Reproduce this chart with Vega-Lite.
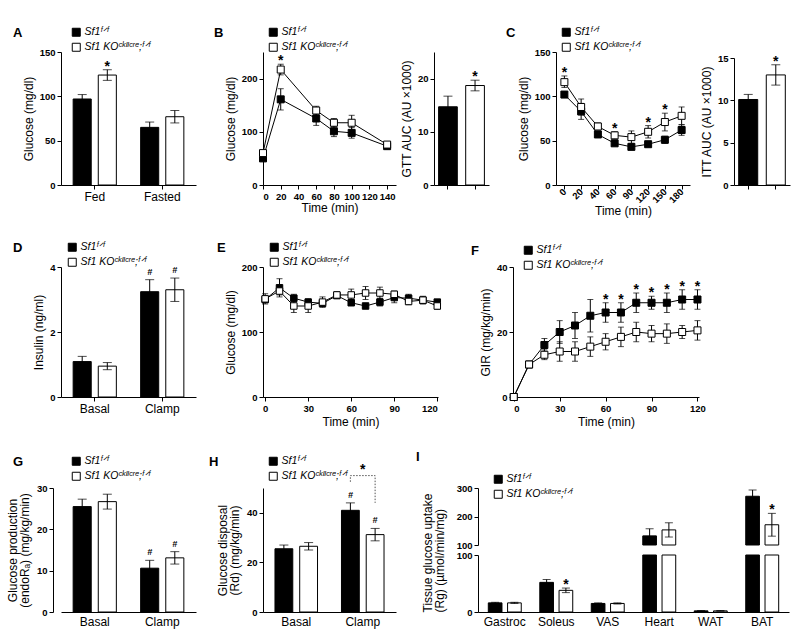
{
"$schema":"https://vega.github.io/schema/vega-lite/v6.json",
"background":"white",
"padding":{"left":6,"top":27,"right":2,"bottom":2},
"autosize":{"type":"pad"},
"config":{
 "font":"Liberation Sans",
 "view":{"stroke":null},
 "axis":{"grid":false,"domainColor":"black","tickColor":"black","tickSize":4,"labelFont":"Liberation Sans","labelFontSize":9.5,"labelFontWeight":"bold","labelColor":"black","labelPadding":2,"titleFont":"Liberation Sans","titleFontSize":12,"titleFontWeight":"normal","titleColor":"black","titlePadding":4,"titleLineHeight":12},
 "legend":{"orient":"none","titleOrient":"left","titleAnchor":"start","titleFont":"Liberation Sans","titleFontSize":13,"titleFontWeight":900,"titleColor":"black","titleBaseline":"top","labelFont":"Liberation Sans","labelFontSize":10.5,"labelFontStyle":"italic","labelColor":"black","symbolType":"square","symbolSize":64,"symbolStrokeColor":"black","symbolStrokeWidth":1,"rowPadding":2,"labelOffset":3,"padding":0},
 "text":{"font":"Liberation Sans","color":"black"}
},
"datasets":{
 "A":[{"c":"Fed","g":"WT","v":97,"lo":92,"hi":102},{"c":"Fed","g":"KO","v":124,"lo":118,"hi":130,"s":"*"},{"c":"Fasted","g":"WT","v":65,"lo":59,"hi":71},{"c":"Fasted","g":"KO","v":77,"lo":70,"hi":84}],
 "B":[{"t":0,"g":"WT","v":50,"lo":47,"hi":53},{"t":20,"g":"WT","v":161,"lo":141,"hi":181},{"t":60,"g":"WT","v":125,"lo":112,"hi":138},{"t":80,"g":"WT","v":101,"lo":91,"hi":111},{"t":100,"g":"WT","v":98,"lo":88,"hi":108},{"t":140,"g":"WT","v":73,"lo":68,"hi":78},
      {"t":0,"g":"KO","v":60,"lo":56,"hi":64},{"t":20,"g":"KO","v":217,"lo":207,"hi":227,"s":"*"},{"t":60,"g":"KO","v":140,"lo":132,"hi":148},{"t":80,"g":"KO","v":117,"lo":109,"hi":125},{"t":100,"g":"KO","v":117,"lo":103,"hi":131},{"t":140,"g":"KO","v":76,"lo":71,"hi":81}],
 "BA":[{"g":"WT","v":14.7,"lo":12.7,"hi":16.7},{"g":"KO","v":18.7,"lo":17.7,"hi":19.7,"s":"*"}],
 "C":[{"t":0,"g":"WT","v":102,"lo":99,"hi":105},{"t":20,"g":"WT","v":83,"lo":74,"hi":92},{"t":40,"g":"WT","v":57,"lo":54,"hi":60},{"t":60,"g":"WT","v":47,"lo":45,"hi":49},{"t":90,"g":"WT","v":43,"lo":41,"hi":45},{"t":120,"g":"WT","v":46,"lo":43,"hi":49},{"t":150,"g":"WT","v":51,"lo":47,"hi":55},{"t":180,"g":"WT","v":62,"lo":56,"hi":68},
      {"t":0,"g":"KO","v":116,"lo":110,"hi":123,"s":"*"},{"t":20,"g":"KO","v":88,"lo":79,"hi":97},{"t":40,"g":"KO","v":66,"lo":62,"hi":70},{"t":60,"g":"KO","v":56,"lo":52,"hi":60,"s":"*"},{"t":90,"g":"KO","v":54,"lo":47,"hi":61},{"t":120,"g":"KO","v":60,"lo":53,"hi":67,"s":"*"},{"t":150,"g":"KO","v":71,"lo":61,"hi":81,"s":"*"},{"t":180,"g":"KO","v":78,"lo":68,"hi":88}],
 "CA":[{"g":"WT","v":10.1,"lo":9.5,"hi":10.7},{"g":"KO","v":13.0,"lo":11.8,"hi":14.2,"s":"*"}],
 "D":[{"c":"Basal","g":"WT","v":1.09,"lo":0.93,"hi":1.25},{"c":"Basal","g":"KO","v":0.95,"lo":0.84,"hi":1.06},{"c":"Clamp","g":"WT","v":3.24,"lo":2.87,"hi":3.61,"h":"#"},{"c":"Clamp","g":"KO","v":3.3,"lo":2.94,"hi":3.66,"h":"#"}],
 "E":[{"t":0,"g":"WT","v":150,"lo":145,"hi":155},{"t":10,"g":"WT","v":168,"lo":154,"hi":182},{"t":20,"g":"WT","v":152,"lo":146,"hi":158},{"t":30,"g":"WT","v":146,"lo":141,"hi":151},{"t":40,"g":"WT","v":144,"lo":139,"hi":149},{"t":50,"g":"WT","v":156,"lo":152,"hi":160},{"t":60,"g":"WT","v":145,"lo":141,"hi":149},{"t":70,"g":"WT","v":140,"lo":138,"hi":142},{"t":80,"g":"WT","v":146,"lo":140,"hi":152},{"t":90,"g":"WT","v":153,"lo":145,"hi":161},{"t":100,"g":"WT","v":152,"lo":146,"hi":158},{"t":110,"g":"WT","v":149,"lo":143,"hi":155},{"t":120,"g":"WT","v":146,"lo":142,"hi":150},
      {"t":0,"g":"KO","v":151,"lo":143,"hi":159},{"t":10,"g":"KO","v":163,"lo":157,"hi":169},{"t":20,"g":"KO","v":140,"lo":130,"hi":150},{"t":30,"g":"KO","v":140,"lo":130,"hi":150},{"t":40,"g":"KO","v":146,"lo":138,"hi":154},{"t":50,"g":"KO","v":157,"lo":152,"hi":162},{"t":60,"g":"KO","v":157,"lo":148,"hi":166},{"t":70,"g":"KO","v":160,"lo":150,"hi":170},{"t":80,"g":"KO","v":160,"lo":151,"hi":169},{"t":90,"g":"KO","v":158,"lo":153,"hi":163},{"t":100,"g":"KO","v":147,"lo":142,"hi":152},{"t":110,"g":"KO","v":149,"lo":145,"hi":153},{"t":120,"g":"KO","v":140,"lo":135,"hi":145}],
 "F":[{"t":0,"g":"WT","v":0},{"t":10,"g":"WT","v":10,"lo":9.3,"hi":10.7},{"t":20,"g":"WT","v":16,"lo":14,"hi":18},{"t":30,"g":"WT","v":20,"lo":16.5,"hi":23.5},{"t":40,"g":"WT","v":22,"lo":18,"hi":26},{"t":50,"g":"WT","v":25,"lo":20,"hi":30},{"t":60,"g":"WT","v":26,"lo":23,"hi":29,"s":"*"},{"t":70,"g":"WT","v":26,"lo":23,"hi":29,"s":"*"},{"t":80,"g":"WT","v":29,"lo":26,"hi":32,"s":"*"},{"t":90,"g":"WT","v":29,"lo":27,"hi":31,"s":"*"},{"t":100,"g":"WT","v":29,"lo":26,"hi":32,"s":"*"},{"t":110,"g":"WT","v":30,"lo":27,"hi":33,"s":"*"},{"t":120,"g":"WT","v":30,"lo":27,"hi":33,"s":"*"},
      {"t":0,"g":"KO","v":0},{"t":10,"g":"KO","v":10,"lo":9.4,"hi":10.6},{"t":20,"g":"KO","v":13,"lo":11.5,"hi":14.5},{"t":30,"g":"KO","v":14,"lo":11,"hi":17},{"t":40,"g":"KO","v":14,"lo":11,"hi":17},{"t":50,"g":"KO","v":15.5,"lo":12.5,"hi":18.5},{"t":60,"g":"KO","v":17,"lo":14.5,"hi":19.5},{"t":70,"g":"KO","v":18.5,"lo":15.5,"hi":21.5},{"t":80,"g":"KO","v":20,"lo":17,"hi":23},{"t":90,"g":"KO","v":19.5,"lo":17,"hi":22},{"t":100,"g":"KO","v":19.5,"lo":16.5,"hi":22.5},{"t":110,"g":"KO","v":20,"lo":18,"hi":22},{"t":120,"g":"KO","v":20.5,"lo":17.5,"hi":23.5}],
 "G":[{"c":"Basal","g":"WT","v":25.5,"lo":23.7,"hi":27.3},{"c":"Basal","g":"KO","v":26.7,"lo":24.9,"hi":28.5},{"c":"Clamp","g":"WT","v":10.6,"lo":8.7,"hi":12.5,"h":"#"},{"c":"Clamp","g":"KO","v":13.1,"lo":11.6,"hi":14.6,"h":"#"}],
 "H":[{"c":"Basal","g":"WT","v":25.5,"lo":24,"hi":27},{"c":"Basal","g":"KO","v":26.5,"lo":25,"hi":28},{"c":"Clamp","g":"WT","v":41,"lo":38,"hi":44,"h":"#"},{"c":"Clamp","g":"KO","v":31.2,"lo":28.7,"hi":33.7,"h":"#"}],
 "Hb":[{"c":"Clamp","g":"WT","y":52.5,"o":1},{"c":"Clamp","g":"WT","y":55,"o":2},{"c":"Clamp","g":"KO","y":55,"o":3},{"c":"Clamp","g":"KO","y":44,"o":4}],
 "Hs":[{"c":"Clamp","y":56,"s":"*"}],
 "I":[{"c":"Gastroc","g":"WT","v":16,"lo":15,"hi":17},{"c":"Gastroc","g":"KO","v":16,"lo":15,"hi":17},{"c":"Soleus","g":"WT","v":52,"lo":47,"hi":57},{"c":"Soleus","g":"KO","v":38,"lo":34,"hi":42,"s":"*"},{"c":"VAS","g":"WT","v":15,"lo":14,"hi":16},{"c":"VAS","g":"KO","v":15,"lo":14,"hi":16},{"c":"Heart","g":"WT","v":132,"lo":107,"hi":157},{"c":"Heart","g":"KO","v":153,"lo":128,"hi":178},{"c":"WAT","g":"WT","v":2,"lo":1.6,"hi":2.4},{"c":"WAT","g":"KO","v":2,"lo":1.6,"hi":2.4},{"c":"BAT","g":"WT","v":271,"lo":249,"hi":293},{"c":"BAT","g":"KO","v":171,"lo":131,"hi":211,"s":"*"}],
 "Z":[{"a":1}]
},
"columns":7,"align":"each","bounds":"flush","spacing":{"row":82,"column":0},
"resolve":{"scale":{"fill":"independent","xOffset":"independent","x":"independent","y":"independent"},"legend":{"fill":"independent"}},
"concat":[
  {"width":202,"height":133,"data":{"name":"A"},
   "encoding":{"x":{"field":"c","type":"nominal","sort":["Fed","Fasted"],"scale":{"range":[0,135],"paddingInner":0.36,"paddingOuter":0.18},"axis":{"title":null,"labelAngle":0,"labelFontWeight":"normal","labelFontSize":12,"labelPadding":2}},
               "xOffset":{"field":"g","type":"nominal","sort":["WT","KO"],"scale":{"paddingInner":0.28}}},
   "layer":[
    {"mark":{"type":"bar","stroke":"black","strokeWidth":1},"encoding":{"y":{"field":"v","type":"quantitative","scale":{"domain":[0,150],"nice":false},"axis":{"title":"Glucose (mg/dl)","values":[0,50,100,150]}},"fill":{"field":"g","type":"nominal","scale":{"domain":["WT","KO"],"range":["black","white"]},"legend":{"orient":"none","title":"A","legendX":-48,"legendY":-25,"titlePadding":48,"labelExpr":"datum.label === 'WT' ? 'Sf1ᶠᐟᶠ' : 'Sf1 KOᶜᵏᴵᴵᶜʳᵉ;ᶠᐟᶠ'"}}}},
    {"mark":{"type":"rule","color":"black","strokeWidth":1},"encoding":{"y":{"field":"lo","type":"quantitative"},"y2":{"field":"hi"}}},
    {"mark":{"type":"tick","orient":"horizontal","color":"black","size":9,"thickness":1},"encoding":{"y":{"field":"hi","type":"quantitative"}}},
    {"mark":{"type":"tick","orient":"horizontal","color":"black","size":9,"thickness":1},"encoding":{"y":{"field":"lo","type":"quantitative"}}},
    {"transform":[{"filter":"datum.s"}],"mark":{"type":"text","fontSize":14,"fontWeight":"bold","baseline":"alphabetic","dy":1},"encoding":{"y":{"field":"hi","type":"quantitative"},"text":{"field":"s","type":"nominal"}}}
   ]},
  {"width":171,"height":133,"data":{"name":"B"},
   "encoding":{"x":{"field":"t","type":"quantitative","scale":{"domain":[0,150],"nice":false,"range":[0,133]},"axis":{"values":[0,20,40,60,80,100,120,140],"title":"Time (min)","titlePadding":2}}},
   "layer":[
    {"mark":{"type":"line","color":"black","strokeWidth":1},"encoding":{"y":{"field":"v","type":"quantitative","scale":{"domain":[0,250],"nice":false},"axis":{"title":"Glucose (mg/dl)","values":[0,50,100,150,200,250]}},"detail":{"field":"g"}}},
    {"mark":{"type":"rule","color":"black","strokeWidth":1},"encoding":{"y":{"field":"lo","type":"quantitative"},"y2":{"field":"hi"}}},
    {"mark":{"type":"tick","orient":"horizontal","color":"black","size":6,"thickness":1},"encoding":{"y":{"field":"hi","type":"quantitative"}}},
    {"mark":{"type":"tick","orient":"horizontal","color":"black","size":6,"thickness":1},"encoding":{"y":{"field":"lo","type":"quantitative"}}},
    {"mark":{"type":"point","shape":"square","filled":true,"size":49,"stroke":"black","strokeWidth":1,"opacity":1},"encoding":{"y":{"field":"v","type":"quantitative"},"fill":{"field":"g","type":"nominal","scale":{"domain":["WT","KO"],"range":["black","white"]},"legend":{"orient":"none","title":"B","legendX":-49,"legendY":-25,"titlePadding":44,"labelExpr":"datum.label === 'WT' ? 'Sf1ᶠᐟᶠ' : 'Sf1 KOᶜᵏᴵᴵᶜʳᵉ;ᶠᐟᶠ'"}}}},
    {"transform":[{"filter":"datum.s"}],"mark":{"type":"text","fontSize":14,"fontWeight":"bold","baseline":"alphabetic","dy":1},"encoding":{"y":{"field":"hi","type":"quantitative"},"text":{"field":"s","type":"nominal"}}}
   ]},
  {"width":44,"height":133,"data":{"name":"BA"},
   "encoding":{"x":{"field":"g","type":"nominal","sort":["WT","KO"],"scale":{"range":[0,55],"paddingInner":0.31,"paddingOuter":0.17},"axis":{"title":null,"labels":false}}},
   "layer":[
    {"mark":{"type":"bar","stroke":"black","strokeWidth":1},"encoding":{"y":{"field":"v","type":"quantitative","scale":{"domain":[0,25],"nice":false},"axis":{"title":"GTT AUC (AU ×1000)","values":[0,5,10,15,20,25]}},"fill":{"field":"g","type":"nominal","scale":{"domain":["WT","KO"],"range":["black","white"]},"legend":null}}},
    {"mark":{"type":"rule","color":"black","strokeWidth":1},"encoding":{"y":{"field":"lo","type":"quantitative"},"y2":{"field":"hi"}}},
    {"mark":{"type":"tick","orient":"horizontal","color":"black","size":9,"thickness":1},"encoding":{"y":{"field":"hi","type":"quantitative"}}},
    {"mark":{"type":"tick","orient":"horizontal","color":"black","size":9,"thickness":1},"encoding":{"y":{"field":"lo","type":"quantitative"}}},
    {"transform":[{"filter":"datum.s"}],"mark":{"type":"text","fontSize":14,"fontWeight":"bold","baseline":"alphabetic","dy":1},"encoding":{"y":{"field":"hi","type":"quantitative"},"text":{"field":"s","type":"nominal"}}}
   ]},
  {"width":35,"height":1,"data":{"name":"Z"},"mark":{"type":"point","opacity":0}},
  {"width":43,"height":1,"data":{"name":"Z"},"mark":{"type":"point","opacity":0}},
  {"width":178,"height":133,"data":{"name":"C"},
   "encoding":{"x":{"field":"t","type":"ordinal","sort":[0,20,40,60,90,120,150,180],"scale":{"type":"point","padding":0.5,"range":[0,134]},"axis":{"title":"Time (min)","titleX":67,"titleY":20,"titleAlign":"center","titleBaseline":"top","labelAngle":-45,"labelAlign":"right","labelBaseline":"middle","labelPadding":1}}},
   "layer":[
    {"mark":{"type":"line","color":"black","strokeWidth":1},"encoding":{"y":{"field":"v","type":"quantitative","scale":{"domain":[0,150],"nice":false},"axis":{"title":"Glucose (mg/dl)","values":[0,50,100,150]}},"detail":{"field":"g"}}},
    {"mark":{"type":"rule","color":"black","strokeWidth":1},"encoding":{"y":{"field":"lo","type":"quantitative"},"y2":{"field":"hi"}}},
    {"mark":{"type":"tick","orient":"horizontal","color":"black","size":6,"thickness":1},"encoding":{"y":{"field":"hi","type":"quantitative"}}},
    {"mark":{"type":"tick","orient":"horizontal","color":"black","size":6,"thickness":1},"encoding":{"y":{"field":"lo","type":"quantitative"}}},
    {"mark":{"type":"point","shape":"square","filled":true,"size":49,"stroke":"black","strokeWidth":1,"opacity":1},"encoding":{"y":{"field":"v","type":"quantitative"},"fill":{"field":"g","type":"nominal","scale":{"domain":["WT","KO"],"range":["black","white"]},"legend":{"orient":"none","title":"C","legendX":-50,"legendY":-25,"titlePadding":45,"labelExpr":"datum.label === 'WT' ? 'Sf1ᶠᐟᶠ' : 'Sf1 KOᶜᵏᴵᴵᶜʳᵉ;ᶠᐟᶠ'"}}}},
    {"transform":[{"filter":"datum.s"}],"mark":{"type":"text","fontSize":14,"fontWeight":"bold","baseline":"alphabetic","dy":1},"encoding":{"y":{"field":"hi","type":"quantitative"},"text":{"field":"s","type":"nominal"}}}
   ]},
  {"width":62,"height":133,"data":{"name":"CA"},
   "encoding":{"x":{"field":"g","type":"nominal","sort":["WT","KO"],"scale":{"range":[0,56],"paddingInner":0.31,"paddingOuter":0.17},"axis":{"title":null,"labels":false}}},
   "layer":[
    {"mark":{"type":"bar","stroke":"black","strokeWidth":1},"encoding":{"y":{"field":"v","type":"quantitative","scale":{"domain":[0,15],"nice":false,"range":[133,6]},"axis":{"title":"ITT AUC (AU ×1000)","values":[0,5,10,15]}},"fill":{"field":"g","type":"nominal","scale":{"domain":["WT","KO"],"range":["black","white"]},"legend":null}}},
    {"mark":{"type":"rule","color":"black","strokeWidth":1},"encoding":{"y":{"field":"lo","type":"quantitative"},"y2":{"field":"hi"}}},
    {"mark":{"type":"tick","orient":"horizontal","color":"black","size":9,"thickness":1},"encoding":{"y":{"field":"hi","type":"quantitative"}}},
    {"mark":{"type":"tick","orient":"horizontal","color":"black","size":9,"thickness":1},"encoding":{"y":{"field":"lo","type":"quantitative"}}},
    {"transform":[{"filter":"datum.s"}],"mark":{"type":"text","fontSize":14,"fontWeight":"bold","baseline":"alphabetic","dy":1},"encoding":{"y":{"field":"hi","type":"quantitative"},"text":{"field":"s","type":"nominal"}}}
   ]},
  {"width":202,"height":130,"data":{"name":"D"},
   "encoding":{"x":{"field":"c","type":"nominal","sort":["Basal","Clamp"],"scale":{"range":[0,135],"paddingInner":0.36,"paddingOuter":0.18},"axis":{"title":null,"labelAngle":0,"labelFontWeight":"normal","labelFontSize":12,"labelPadding":2}},
               "xOffset":{"field":"g","type":"nominal","sort":["WT","KO"],"scale":{"paddingInner":0.28}}},
   "layer":[
    {"mark":{"type":"bar","stroke":"black","strokeWidth":1},"encoding":{"y":{"field":"v","type":"quantitative","scale":{"domain":[0,4],"nice":false},"axis":{"title":"Insulin (ng/ml)","values":[0,1,2,3,4]}},"fill":{"field":"g","type":"nominal","scale":{"domain":["WT","KO"],"range":["black","white"]},"legend":{"orient":"none","title":"D","legendX":-48,"legendY":-25,"titlePadding":44,"labelExpr":"datum.label === 'WT' ? 'Sf1ᶠᐟᶠ' : 'Sf1 KOᶜᵏᴵᴵᶜʳᵉ;ᶠᐟᶠ'"}}}},
    {"mark":{"type":"rule","color":"black","strokeWidth":1},"encoding":{"y":{"field":"lo","type":"quantitative"},"y2":{"field":"hi"}}},
    {"mark":{"type":"tick","orient":"horizontal","color":"black","size":9,"thickness":1},"encoding":{"y":{"field":"hi","type":"quantitative"}}},
    {"mark":{"type":"tick","orient":"horizontal","color":"black","size":9,"thickness":1},"encoding":{"y":{"field":"lo","type":"quantitative"}}},
    {"transform":[{"filter":"datum.h"}],"mark":{"type":"text","fontSize":9,"fontStyle":"italic","fontWeight":"bold","baseline":"alphabetic","dy":-5},"encoding":{"y":{"field":"hi","type":"quantitative"},"text":{"field":"h","type":"nominal"}}}
   ]},
  {"width":171,"height":130,"data":{"name":"E"},
   "encoding":{"x":{"field":"t","type":"quantitative","scale":{"domain":[-1.5,120.5],"nice":false,"range":[0,175]},"axis":{"values":[0,30,60,90,120],"title":"Time (min)"}}},
   "layer":[
    {"mark":{"type":"line","color":"black","strokeWidth":1},"encoding":{"y":{"field":"v","type":"quantitative","scale":{"domain":[0,200],"nice":false},"axis":{"title":"Glucose (mg/dl)","values":[0,50,100,150,200]}},"detail":{"field":"g"}}},
    {"mark":{"type":"rule","color":"black","strokeWidth":1},"encoding":{"y":{"field":"lo","type":"quantitative"},"y2":{"field":"hi"}}},
    {"mark":{"type":"tick","orient":"horizontal","color":"black","size":6,"thickness":1},"encoding":{"y":{"field":"hi","type":"quantitative"}}},
    {"mark":{"type":"tick","orient":"horizontal","color":"black","size":6,"thickness":1},"encoding":{"y":{"field":"lo","type":"quantitative"}}},
    {"mark":{"type":"point","shape":"square","filled":true,"size":42,"stroke":"black","strokeWidth":1,"opacity":1},"encoding":{"y":{"field":"v","type":"quantitative"},"fill":{"field":"g","type":"nominal","scale":{"domain":["WT","KO"],"range":["black","white"]},"legend":{"orient":"none","title":"E","legendX":-46,"legendY":-25,"titlePadding":43,"labelExpr":"datum.label === 'WT' ? 'Sf1ᶠᐟᶠ' : 'Sf1 KOᶜᵏᴵᴵᶜʳᵉ;ᶠᐟᶠ'"}}}}
   ]},
  {"width":44,"height":1,"data":{"name":"Z"},"mark":{"type":"point","opacity":0}},
  {"width":35,"height":1,"data":{"name":"Z"},"mark":{"type":"point","opacity":0}},
  {"width":43,"height":130,"data":{"name":"F"},
   "encoding":{"x":{"field":"t","type":"quantitative","scale":{"domain":[-0.5,121],"nice":false,"range":[0,186]},"axis":{"values":[0,30,60,90,120],"title":"Time (min)"}}},
   "layer":[
    {"mark":{"type":"line","color":"black","strokeWidth":1},"encoding":{"y":{"field":"v","type":"quantitative","scale":{"domain":[0,40],"nice":false},"axis":{"title":"GIR (mg/kg/min)","values":[0,10,20,30,40]}},"detail":{"field":"g"}}},
    {"mark":{"type":"rule","color":"black","strokeWidth":1},"encoding":{"y":{"field":"lo","type":"quantitative"},"y2":{"field":"hi"}}},
    {"mark":{"type":"tick","orient":"horizontal","color":"black","size":6,"thickness":1},"encoding":{"y":{"field":"hi","type":"quantitative"}}},
    {"mark":{"type":"tick","orient":"horizontal","color":"black","size":6,"thickness":1},"encoding":{"y":{"field":"lo","type":"quantitative"}}},
    {"mark":{"type":"point","shape":"square","filled":true,"size":49,"stroke":"black","strokeWidth":1,"opacity":1},"encoding":{"y":{"field":"v","type":"quantitative"},"fill":{"field":"g","type":"nominal","scale":{"domain":["WT","KO"],"range":["black","white"]},"legend":{"orient":"none","title":"F","legendX":-42,"legendY":-22,"titlePadding":44,"labelExpr":"datum.label === 'WT' ? 'Sf1ᶠᐟᶠ' : 'Sf1 KOᶜᵏᴵᴵᶜʳᵉ;ᶠᐟᶠ'"}}}},
    {"transform":[{"filter":"datum.s"}],"mark":{"type":"text","fontSize":14,"fontWeight":"bold","baseline":"alphabetic","dy":1},"encoding":{"y":{"field":"hi","type":"quantitative"},"text":{"field":"s","type":"nominal"}}}
   ]},
  {"width":178,"height":1,"data":{"name":"Z"},"mark":{"type":"point","opacity":0}},
  {"width":62,"height":1,"data":{"name":"Z"},"mark":{"type":"point","opacity":0}},
  {"width":202,"height":133,"data":{"name":"G"},
   "encoding":{"x":{"field":"c","type":"nominal","sort":["Basal","Clamp"],"scale":{"range":[0,135],"paddingInner":0.36,"paddingOuter":0.18},"axis":{"title":null,"labelAngle":0,"labelFontWeight":"normal","labelFontSize":12,"labelPadding":4,"ticks":false}},
               "xOffset":{"field":"g","type":"nominal","sort":["WT","KO"],"scale":{"paddingInner":0.28}}},
   "layer":[
    {"mark":{"type":"bar","stroke":"black","strokeWidth":1},"encoding":{"y":{"field":"v","type":"quantitative","scale":{"domain":[0,30],"nice":false,"range":[133,9]},"axis":{"title":["Glucose production","(endoRₐ) (mg/kg/min)"],"values":[0,10,20,30],"offset":8,"titlePadding":5}},"fill":{"field":"g","type":"nominal","scale":{"domain":["WT","KO"],"range":["black","white"]},"legend":{"orient":"none","title":"G","legendX":-48,"legendY":-23,"titlePadding":47,"labelExpr":"datum.label === 'WT' ? 'Sf1ᶠᐟᶠ' : 'Sf1 KOᶜᵏᴵᴵᶜʳᵉ;ᶠᐟᶠ'"}}}},
    {"mark":{"type":"rule","color":"black","strokeWidth":1},"encoding":{"y":{"field":"lo","type":"quantitative"},"y2":{"field":"hi"}}},
    {"mark":{"type":"tick","orient":"horizontal","color":"black","size":9,"thickness":1},"encoding":{"y":{"field":"hi","type":"quantitative"}}},
    {"mark":{"type":"tick","orient":"horizontal","color":"black","size":9,"thickness":1},"encoding":{"y":{"field":"lo","type":"quantitative"}}},
    {"transform":[{"filter":"datum.h"}],"mark":{"type":"text","fontSize":9,"fontStyle":"italic","fontWeight":"bold","baseline":"alphabetic","dy":-5},"encoding":{"y":{"field":"hi","type":"quantitative"},"text":{"field":"h","type":"nominal"}}}
   ]},
  {"width":171,"height":133,
   "layer":[
    {"data":{"name":"H"},"mark":{"type":"bar","stroke":"black","strokeWidth":1},"encoding":{
      "x":{"field":"c","type":"nominal","sort":["Basal","Clamp"],"scale":{"range":[0,133],"paddingInner":0.36,"paddingOuter":0.18},"axis":{"title":null,"labelAngle":0,"labelFontWeight":"normal","labelFontSize":12,"labelPadding":4,"ticks":false}},
      "xOffset":{"field":"g","type":"nominal","sort":["WT","KO"],"scale":{"paddingInner":0.28}},
      "y":{"field":"v","type":"quantitative","scale":{"domain":[0,50],"nice":false,"range":[133,9]},"axis":{"title":["Glucose disposal","(Rd) (mg/kg/min)"],"values":[0,10,20,30,40,50],"titlePadding":5}},"fill":{"field":"g","type":"nominal","scale":{"domain":["WT","KO"],"range":["black","white"]},"legend":{"orient":"none","title":"H","legendX":-54,"legendY":-23,"titlePadding":49,"labelExpr":"datum.label === 'WT' ? 'Sf1ᶠᐟᶠ' : 'Sf1 KOᶜᵏᴵᴵᶜʳᵉ;ᶠᐟᶠ'"}}}},
    {"data":{"name":"H"},"mark":{"type":"rule","color":"black","strokeWidth":1},"encoding":{"x":{"field":"c","type":"nominal","sort":["Basal","Clamp"]},"xOffset":{"field":"g","type":"nominal","sort":["WT","KO"]},"y":{"field":"lo","type":"quantitative"},"y2":{"field":"hi"}}},
    {"data":{"name":"H"},"mark":{"type":"tick","orient":"horizontal","color":"black","size":9,"thickness":1},"encoding":{"x":{"field":"c","type":"nominal","sort":["Basal","Clamp"]},"xOffset":{"field":"g","type":"nominal","sort":["WT","KO"]},"y":{"field":"hi","type":"quantitative"}}},
    {"data":{"name":"H"},"mark":{"type":"tick","orient":"horizontal","color":"black","size":9,"thickness":1},"encoding":{"x":{"field":"c","type":"nominal","sort":["Basal","Clamp"]},"xOffset":{"field":"g","type":"nominal","sort":["WT","KO"]},"y":{"field":"lo","type":"quantitative"}}},
    {"data":{"name":"H"},"transform":[{"filter":"datum.h"}],"mark":{"type":"text","fontSize":9,"fontStyle":"italic","fontWeight":"bold","baseline":"alphabetic","dy":-5},"encoding":{"x":{"field":"c","type":"nominal","sort":["Basal","Clamp"]},"xOffset":{"field":"g","type":"nominal","sort":["WT","KO"]},"y":{"field":"hi","type":"quantitative"},"text":{"field":"h","type":"nominal"}}},
    {"data":{"name":"Hb"},"mark":{"type":"line","color":"#555555","strokeWidth":1,"strokeDash":[1.5,1.5]},"encoding":{"x":{"field":"c","type":"nominal","sort":["Basal","Clamp"]},"xOffset":{"field":"g","type":"nominal","sort":["WT","KO"]},"y":{"field":"y","type":"quantitative"},"order":{"field":"o","type":"quantitative"}}},
    {"data":{"name":"Hs"},"mark":{"type":"text","fontSize":14,"fontWeight":"bold","baseline":"alphabetic","dy":1},"encoding":{"x":{"field":"c","type":"nominal","sort":["Basal","Clamp"]},"y":{"field":"y","type":"quantitative"},"text":{"field":"s","type":"nominal"}}}
   ]},
  {"width":44,"height":1,"data":{"name":"Z"},"mark":{"type":"point","opacity":0}},
  {"width":35,"height":133,"data":{"name":"I"},
   "title":{"text":"I","anchor":"start","frame":"group","dx":-62,"fontSize":13,"fontWeight":900,"font":"Liberation Sans","color":"black","offset":10},
   "encoding":{"x":{"field":"c","type":"nominal","sort":["Gastroc","Soleus","VAS","Heart","WAT","BAT"],"scale":{"domain":["Gastroc","Soleus","VAS","Heart","WAT","BAT"],"range":[0,311],"paddingInner":0.36,"paddingOuter":0.2},"axis":{"title":null,"labelAngle":0,"labelFontWeight":"normal","labelFontSize":12,"labelPadding":4,"ticks":false}},
               "xOffset":{"field":"g","type":"nominal","sort":["WT","KO"],"scale":{"domain":["WT","KO"],"paddingInner":0.29}}},
   "layer":[
    {"transform":[{"filter":"datum.v > 100"}],
     "layer":[
      {"mark":{"type":"bar","stroke":"black","strokeWidth":1},"encoding":{"y":{"field":"v","type":"quantitative","scale":{"domain":[100,300],"nice":false,"range":[66,9]},"axis":{"title":null,"values":[100,200,300],"orient":"left"}},"y2":{"datum":100},"fill":{"field":"g","type":"nominal","scale":{"domain":["WT","KO"],"range":["black","white"]},"legend":{"orient":"none","title":null,"legendX":15,"legendY":-5,"labelExpr":"datum.label === 'WT' ? 'Sf1ᶠᐟᶠ' : 'Sf1 KOᶜᵏᴵᴵᶜʳᵉ;ᶠᐟᶠ'"}}}},
      {"mark":{"type":"rule","color":"black","strokeWidth":1},"encoding":{"y":{"field":"lo","type":"quantitative"},"y2":{"field":"hi"}}},
      {"mark":{"type":"tick","orient":"horizontal","color":"black","size":8,"thickness":1},"encoding":{"y":{"field":"hi","type":"quantitative"}}},
      {"mark":{"type":"tick","orient":"horizontal","color":"black","size":8,"thickness":1},"encoding":{"y":{"field":"lo","type":"quantitative"}}},
      {"transform":[{"filter":"datum.s"}],"mark":{"type":"text","fontSize":14,"fontWeight":"bold","baseline":"alphabetic","dy":1},"encoding":{"y":{"field":"hi","type":"quantitative"},"text":{"field":"s","type":"nominal"}}}
     ]},
    {"layer":[
      {"mark":{"type":"bar","stroke":"black","strokeWidth":1},"encoding":{"y":{"field":"v","type":"quantitative","scale":{"domain":[0,100],"nice":false,"clamp":true,"range":[133,76]},"axis":{"title":["Tissue glucose uptake","(Rg) (µmol/min/mg)"],"titleAnchor":"start","values":[0,100],"orient":"left","titlePadding":10}},"fill":{"field":"g","type":"nominal","scale":{"domain":["WT","KO"],"range":["black","white"]},"legend":{"orient":"none","title":null,"legendX":15,"legendY":-5,"labelExpr":"datum.label === 'WT' ? 'Sf1ᶠᐟᶠ' : 'Sf1 KOᶜᵏᴵᴵᶜʳᵉ;ᶠᐟᶠ'"}}}},
      {"transform":[{"filter":"datum.v < 100"}],"mark":{"type":"rule","color":"black","strokeWidth":1},"encoding":{"y":{"field":"lo","type":"quantitative"},"y2":{"field":"hi"}}},
      {"transform":[{"filter":"datum.v < 100"}],"mark":{"type":"tick","orient":"horizontal","color":"black","size":8,"thickness":1},"encoding":{"y":{"field":"hi","type":"quantitative"}}},
      {"transform":[{"filter":"datum.v < 100"}],"mark":{"type":"tick","orient":"horizontal","color":"black","size":8,"thickness":1},"encoding":{"y":{"field":"lo","type":"quantitative"}}},
      {"transform":[{"filter":"datum.v < 100 && datum.s"}],"mark":{"type":"text","fontSize":14,"fontWeight":"bold","baseline":"alphabetic","dy":1},"encoding":{"y":{"field":"hi","type":"quantitative"},"text":{"field":"s","type":"nominal"}}}
     ]}
   ],
   "resolve":{"scale":{"y":"independent"},"axis":{"y":"independent"}}},
  {"width":43,"height":1,"data":{"name":"Z"},"mark":{"type":"point","opacity":0}},
  {"width":178,"height":1,"data":{"name":"Z"},"mark":{"type":"point","opacity":0}},
  {"width":62,"height":1,"data":{"name":"Z"},"mark":{"type":"point","opacity":0}}
]
}
